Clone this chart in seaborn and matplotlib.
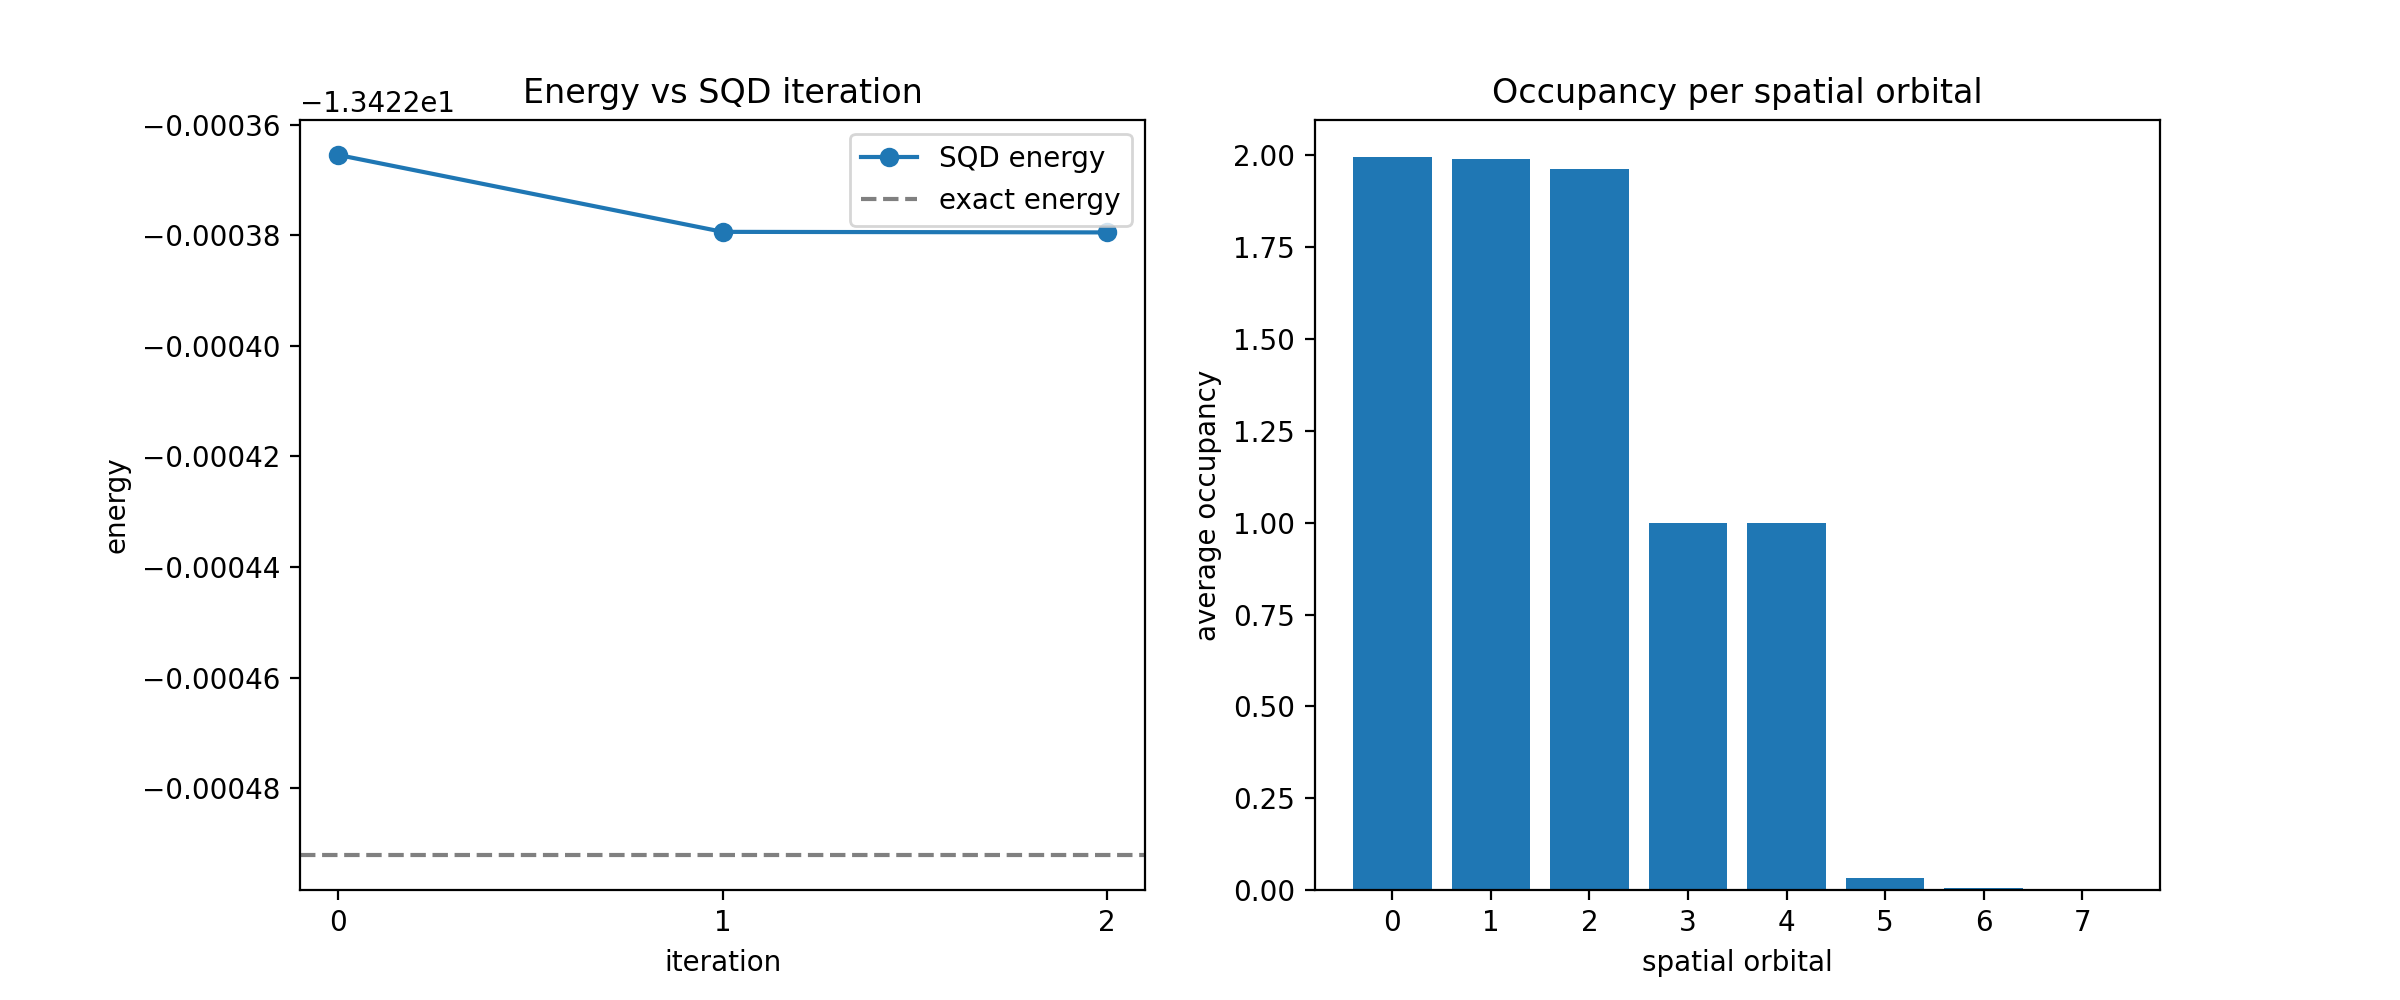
import matplotlib
matplotlib.use("Agg")
import matplotlib.pyplot as plt
import numpy as np
import pandas as pd
import seaborn as sns

# ======================
# data
# ======================
iterations = [0, 1, 2]
sqd_energy = [-13.4223655, -13.4223794, -13.4223795]
exact_energy = -13.4224921

orbitals = [0, 1, 2, 3, 4, 5, 6, 7]
occupancy = [1.9964, 1.991, 1.964, 1.0, 1.0, 0.0317, 0.0045, 0.0005]

blue = "#1f77b4"

fig, axes = plt.subplots(1, 2, figsize=(12, 5))

# ---- left: energy per SQD iteration ----
ax = axes[0]
energy_df = pd.DataFrame({"iteration": iterations, "energy": sqd_energy})
sns.lineplot(data=energy_df, x="iteration", y="energy", marker="o",
             color=blue, markeredgecolor=blue, markeredgewidth=1,
             markersize=6, label="SQD energy", ax=ax)
ax.axhline(exact_energy, color="gray", linestyle="--", label="exact energy")
ax.set_xticks(iterations)
ax.set_xlabel("iteration")
ax.set_ylabel("energy")
ax.set_title("Energy vs SQD iteration")
ax.legend(loc="upper right")

# ---- right: occupancy per orbital ----
ax = axes[1]
occ_df = pd.DataFrame({"orbital": orbitals, "occupancy": occupancy})
sns.barplot(data=occ_df, x="orbital", y="occupancy", color=blue,
            saturation=1, width=0.8, ax=ax)
# back to plain matplotlib autoscaling (seaborn pins the categorical limits)
ax.set_autoscalex_on(True)
ax.relim()
ax.autoscale_view()
ax.set_xlabel("spatial orbital")
ax.set_ylabel("average occupancy")
ax.set_title("Occupancy per spatial orbital")

fig.savefig("out.png", dpi=200)
